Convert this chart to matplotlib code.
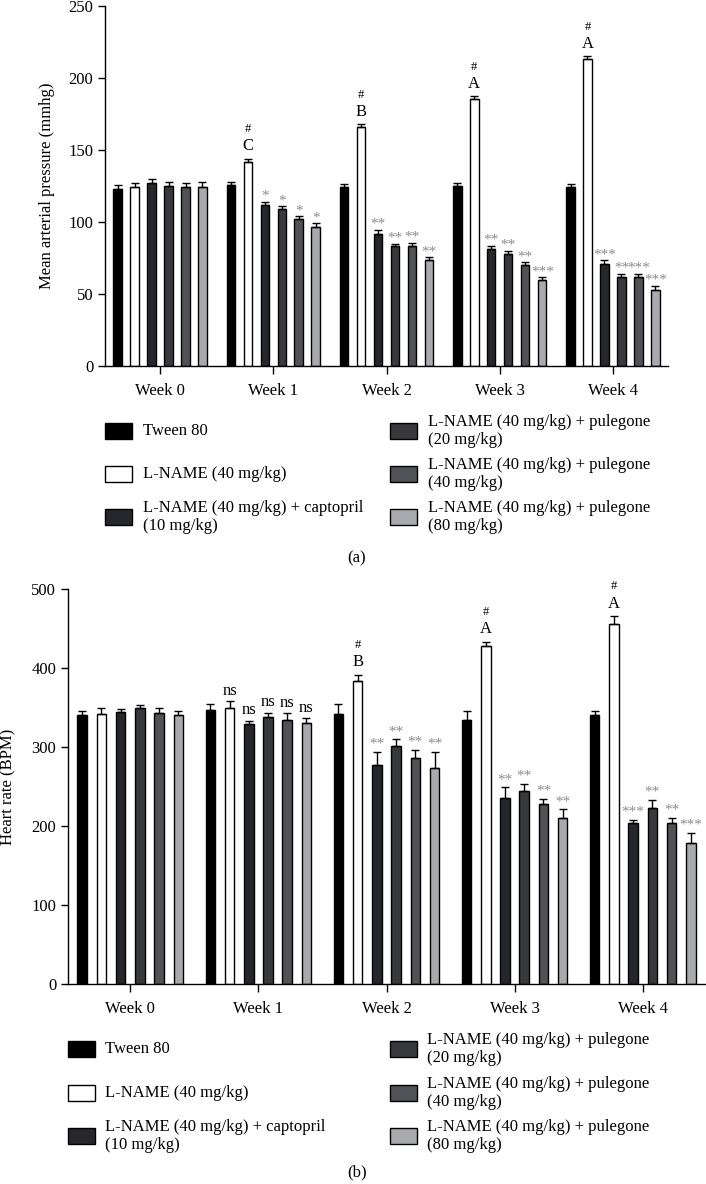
import matplotlib
matplotlib.use('Agg')
import matplotlib.pyplot as plt
from matplotlib.patches import Rectangle
import numpy as np

plt.rcParams['font.family'] = ['Liberation Serif', 'DejaVu Serif']

weeks = ['Week 0', 'Week 1', 'Week 2', 'Week 3', 'Week 4']
groups = ['Tween 80', 'L-NAME (40 mg/kg)', 'L-NAME (40 mg/kg) + captopril\n(10 mg/kg)',
          'L-NAME (40 mg/kg) + pulegone\n(20 mg/kg)', 'L-NAME (40 mg/kg) + pulegone\n(40 mg/kg)',
          'L-NAME (40 mg/kg) + pulegone\n(80 mg/kg)']
colors = ['#000000', '#ffffff', '#26272b', '#38393c', '#505256', '#a9aaad']

# mean arterial pressure, rows = groups, cols = weeks
map_mean = [
    [123, 126, 124.5, 125, 124.5],
    [124.5, 141.5, 166, 185.5, 213],
    [127, 112, 92, 81, 71],
    [125, 109, 83, 78, 62],
    [124, 102, 83, 70, 62],
    [124.5, 96.5, 73.5, 59.5, 53],
]
map_err = [
    [3, 2, 2, 2, 2],
    [2.5, 2.5, 2, 2, 2],
    [3, 2, 2.5, 2.5, 2.5],
    [2.5, 2, 2, 2, 2],
    [3, 2, 2.5, 2, 2],
    [3, 2.5, 2, 2, 2.5],
]
map_marks = [
    ['', '', '', '', ''],
    ['', 'C', 'B', 'A', 'A'],
    ['', '*', '**', '**', '***'],
    ['', '*', '**', '**', '**'],
    ['', '*', '**', '**', '***'],
    ['', '*', '**', '***', '***'],
]

# heart rate
hr_mean = [
    [341, 347, 342, 334, 340.5],
    [342, 350, 383.5, 427.5, 456],
    [344, 329.5, 277.5, 236, 203.5],
    [349, 337.5, 301, 244, 222.5],
    [343, 334.5, 286, 228, 203.5],
    [340, 330, 274, 210, 179],
]
hr_err = [
    [4, 7, 12, 12, 5],
    [8, 8, 8, 6, 10],
    [4, 4, 16, 13, 4.5],
    [4, 6, 8.5, 9, 11],
    [7, 8, 10.5, 6, 7],
    [6, 7, 20, 11, 12],
]
hr_marks = [
    ['', '', '', '', ''],
    ['', 'ns', 'B', 'A', 'A'],
    ['', 'ns', '**', '**', '***'],
    ['', 'ns', '**', '**', '**'],
    ['', 'ns', '**', '**', '**'],
    ['', 'ns', '**', '**', '***'],
]

W, H = 706, 1184
FS = 12
fig = plt.figure(figsize=(W / 100, H / 100), dpi=100)


def draw_panel(ax, means, errs, marks, ylim, yticks, ylabel, star_dy):
    x = np.arange(len(weeks))
    for i in range(len(groups)):
        xs = x + (i - 2.5) * 0.15
        ax.bar(xs, means[i], width=0.075, color=colors[i], edgecolor='black', linewidth=1.0, zorder=2)
        ax.errorbar(xs, means[i], yerr=[np.zeros(len(weeks)), errs[i]], fmt='none',
                    ecolor='black', elinewidth=1.0, capsize=2.6, capthick=1.0, zorder=3)
        for j in range(len(weeks)):
            m = marks[i][j]
            if not m:
                continue
            top = (xs[j], means[i][j] + errs[i][j])
            if m in ('A', 'B', 'C'):
                ax.annotate(m, top, xytext=(0, 6), textcoords='offset points',
                            ha='center', va='baseline', fontsize=FS)
                ax.annotate('#', top, xytext=(0, 19), textcoords='offset points',
                            ha='center', va='baseline', fontsize=9)
            elif m == 'ns':
                ax.annotate(m, top, xytext=(0, 4.5), textcoords='offset points',
                            ha='center', va='baseline', fontsize=FS)
            else:
                ax.annotate(m, top, xytext=(0, star_dy), textcoords='offset points',
                            ha='center', va='baseline', fontsize=11, color='#8c8c8c')
    ax.set_xlim(-0.486, 4.486)
    ax.set_ylim(*ylim)
    ax.set_yticks(yticks)
    ax.set_xticks(x)
    ax.set_xticklabels(weeks)
    ax.spines['top'].set_visible(False)
    ax.spines['right'].set_visible(False)
    ax.spines['left'].set_linewidth(1.0)
    ax.spines['bottom'].set_linewidth(1.0)
    ax.tick_params(axis='both', labelsize=FS, length=5, width=1.0, direction='out')
    ax.tick_params(axis='x', length=6, pad=6)
    ax.set_ylabel(ylabel, fontsize=FS)


# panel (a)
ax1 = fig.add_axes([105 / W, 1 - 366 / H, 563 / W, 360 / H])
draw_panel(ax1, map_mean, map_err, map_marks, (0, 250), [0, 50, 100, 150, 200, 250],
           'Mean arterial pressure (mmhg)', star_dy=1.5)
ax1.yaxis.set_label_coords(-0.089, 0.5)

# panel (b)
ax2 = fig.add_axes([68 / W, 1 - 984 / H, 637 / W, 395 / H])
draw_panel(ax2, hr_mean, hr_err, hr_marks, (0, 500), [0, 100, 200, 300, 400, 500],
           'Heart rate (BPM)', star_dy=3)
ax2.yaxis.set_label_coords(-0.081, 0.5)


def draw_legend(col_x, text_dx, row_y):
    for k in range(len(groups)):
        c = k // 3
        r = k % 3
        px = col_x[c]
        py = row_y[r]
        fig.add_artist(Rectangle((px / W, 1 - (py + 8) / H), 27 / W, 16 / H,
                                 transform=fig.transFigure, facecolor=colors[k],
                                 edgecolor='black', linewidth=1.0))
        fig.text((px + text_dx) / W, 1 - py / H, groups[k], ha='left', va='center',
                 fontsize=FS, linespacing=1.2)


draw_legend([105, 390], 38, [431, 474, 517])
fig.text(357 / W, 1 - 558 / H, '(a)', ha='center', va='center', fontsize=FS)
draw_legend([68, 390], 37, [1049, 1093, 1136])
fig.text(357 / W, 1 - 1172 / H, '(b)', ha='center', va='center', fontsize=FS)

fig.savefig('out.png', dpi=100)
